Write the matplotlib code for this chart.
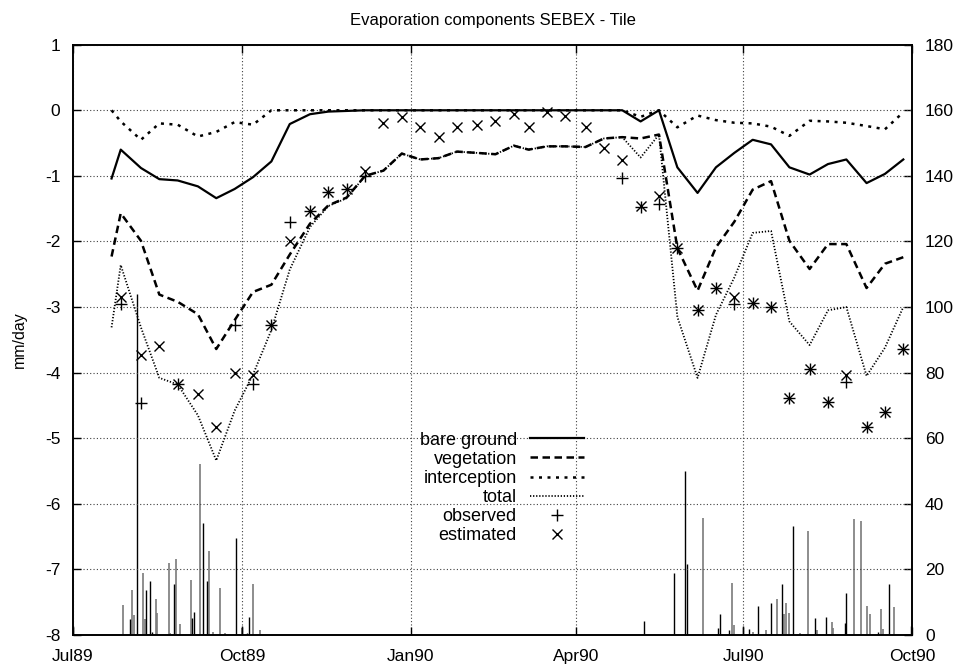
import numpy as np
import pandas as pd
import matplotlib
matplotlib.use("Agg")
import matplotlib.pyplot as plt

plt.rcParams['font.family'] = ['Liberation Sans', 'DejaVu Sans']
plt.rcParams['axes.unicode_minus'] = False

# ---- dekad model output (mm/day) ----
dates = ['1989-07-22', '1989-07-27', '1989-08-07', '1989-08-17', '1989-08-27',
         '1989-09-07', '1989-09-17', '1989-09-27', '1989-10-07', '1989-10-17',
         '1989-10-27', '1989-11-07', '1989-11-17', '1989-11-27', '1989-12-07',
         '1989-12-17', '1989-12-27', '1990-01-06', '1990-01-16', '1990-01-26',
         '1990-02-06', '1990-02-16', '1990-02-26', '1990-03-06', '1990-03-16',
         '1990-03-26', '1990-04-06', '1990-04-16', '1990-04-26', '1990-05-06',
         '1990-05-16', '1990-05-26', '1990-06-06', '1990-06-16', '1990-06-26',
         '1990-07-06', '1990-07-16', '1990-07-26', '1990-08-06', '1990-08-16',
         '1990-08-26', '1990-09-06', '1990-09-16', '1990-09-26']

bare_ground = [-1.04, -0.60, -0.88, -1.05, -1.07, -1.16, -1.34, -1.20, -1.02, -0.78,
               -0.21, -0.06, -0.02, -0.01, 0.0, 0.0, 0.0, 0.0, 0.0, 0.0,
               0.0, 0.0, 0.0, 0.0, 0.0, 0.0, 0.0, 0.0, 0.0, -0.17,
               0.0, -0.87, -1.26, -0.87, -0.65, -0.45, -0.52, -0.87, -0.98, -0.82,
               -0.75, -1.11, -0.97, -0.75]

vegetation = [-2.23, -1.57, -1.99, -2.81, -2.92, -3.11, -3.64, -3.20, -2.77, -2.66,
              -2.20, -1.73, -1.45, -1.33, -1.00, -0.92, -0.66, -0.75, -0.73, -0.63,
              -0.65, -0.67, -0.54, -0.60, -0.55, -0.55, -0.56, -0.43, -0.41, -0.43,
              -0.37, -2.10, -2.75, -2.09, -1.70, -1.21, -1.08, -1.99, -2.42, -2.04,
              -2.04, -2.71, -2.34, -2.24]

interception = [0.0, -0.17, -0.45, -0.20, -0.22, -0.40, -0.33, -0.18, -0.22, 0.0,
                0.0, 0.0, 0.0, 0.0, 0.0, 0.0, 0.0, 0.0, 0.0, 0.0,
                0.0, 0.0, 0.0, 0.0, 0.0, 0.0, 0.0, 0.0, 0.0, -0.10,
                0.0, -0.26, -0.08, -0.15, -0.19, -0.20, -0.25, -0.39, -0.16, -0.17,
                -0.19, -0.24, -0.29, -0.03]

total = [-3.31, -2.36, -3.31, -4.08, -4.18, -4.65, -5.34, -4.58, -4.03, -3.35,
         -2.43, -1.78, -1.46, -1.34, -1.00, -0.92, -0.66, -0.75, -0.73, -0.63,
         -0.65, -0.67, -0.54, -0.60, -0.55, -0.55, -0.56, -0.43, -0.41, -0.72,
         -0.37, -3.15, -4.08, -3.12, -2.55, -1.87, -1.84, -3.22, -3.58, -3.05,
         -3.00, -4.05, -3.62, -3.00]

nan = np.nan
observed = [nan, -2.95, -4.47, nan, -4.18, nan, nan, -3.28, -4.18, -3.28,
            -1.70, -1.53, -1.24, -1.20, -1.00, nan, nan, nan, nan, nan,
            nan, nan, nan, nan, nan, nan, nan, nan, -1.03, -1.47,
            -1.43, -2.10, -3.05, -2.71, -2.95, -2.94, -3.00, -4.38, -3.95, -4.45,
            -4.15, -4.83, -4.60, -3.64]

estimated = [nan, -2.85, -3.73, -3.59, -4.18, -4.32, -4.83, -4.00, -4.04, -3.28,
             -2.00, -1.53, -1.24, -1.20, -0.93, -0.20, -0.10, -0.25, -0.40, -0.26,
             -0.22, -0.17, -0.06, -0.25, -0.02, -0.09, -0.26, -0.58, -0.76, -1.46,
             -1.31, -2.10, -3.05, -2.71, -2.85, -2.94, -3.00, -4.38, -3.95, -4.45,
             -4.03, -4.83, -4.60, -3.64]

# ---- daily rainfall (right axis), day number counted from 1 Jul 1989 ----
rain_black_day = [0, 31, 35, 40, 42, 43, 55, 65, 66, 71, 73, 89, 92, 95, 96,
                  311, 327, 333, 334, 351, 352, 357, 365, 368, 373, 380, 386, 392,
                  404, 410, 420, 421, 438, 444, 456]
rain_black = [2.8, 5.0, 104.0, 13.7, 16.5, 1.0, 15.5, 5.3, 7.0, 34.2, 16.5, 29.6, 2.8, 0.5, 5.6,
              4.4, 19.0, 50.0, 21.6, 2.2, 6.5, 1.4, 2.8, 1.9, 8.9, 9.9, 15.5, 33.2,
              5.3, 5.5, 3.8, 12.7, 0.9, 15.5, 2.8]
rain_grey_day = [27, 32, 33, 38, 39, 45, 46, 52, 53, 56, 58, 64, 69, 74, 76, 80, 83, 92, 98, 102,
                 343, 359, 360, 370, 377, 383, 387, 388, 390, 396, 400, 405, 413, 414,
                 425, 429, 432, 434, 440, 441, 447]
rain_grey = [9.1, 13.7, 6.0, 19.0, 5.0, 10.9, 6.6, 22.1, 0.5, 23.2, 3.5, 16.7, 52.2, 25.6, 0.9, 14.4, 0.5, 2.0, 15.5, 1.4,
             35.6, 16.0, 3.0, 0.9, 1.4, 10.9, 6.5, 9.7, 6.8, 0.7, 31.6, 1.4, 4.1, 2.2,
             35.4, 34.7, 8.9, 6.5, 7.9, 1.9, 8.6]

xtick_dates = ['1989-07-01', '1989-10-01', '1990-01-01', '1990-04-01', '1990-07-01', '1990-10-01']
xtick_labels = ['Jul89', 'Oct89', 'Jan90', 'Apr90', 'Jul90', 'Oct90']

# ---- figure ----
fig = plt.figure(figsize=(9.59, 6.67), dpi=100)
ax = fig.add_axes([0.0761, 0.048, 0.8754, 0.885])
ax2 = ax.twinx()

t = pd.to_datetime(dates)
start = pd.Timestamp('1989-07-01')
tb = start + pd.to_timedelta(rain_black_day, unit='D')
tg = start + pd.to_timedelta(rain_grey_day, unit='D')

ax2.vlines(tg, 0, rain_grey, colors='#7a7a7a', linewidth=1.2)
ax2.vlines(tb, 0, rain_black, colors='black', linewidth=1.0)
ax2.set_ylim(0, 180)
ax2.set_yticks(np.arange(0, 181, 20))

ax.set_zorder(ax2.get_zorder() + 1)
ax.patch.set_visible(False)

ax.plot(t, bare_ground, color='black', lw=1.6, ls='-', label='bare ground')
ax.plot(t, vegetation, color='black', lw=1.8, ls=(0, (3.0, 1.8)), label='vegetation')
ax.plot(t, interception, color='black', lw=1.8, ls=(0, (1.2, 2.2)), label='interception')
ax.plot(t, total, color='black', lw=1.3, ls=(0, (0.7, 1.0)), label='total')
ax.plot(t, observed, ls='none', marker='+', ms=8, mew=1.0, color='black', label='observed')
ax.plot(t, estimated, ls='none', marker='x', ms=7, mew=1.0, color='black', label='estimated')

ax.set_xlim(pd.Timestamp('1989-07-01'), pd.Timestamp('1990-10-01'))
ax.set_ylim(-8, 1)
ax.set_yticks(np.arange(-8, 2, 1))
ax.set_xticks(pd.to_datetime(xtick_dates))
ax.set_xticklabels(xtick_labels)

ax.grid(True, color='0.25', lw=0.8, ls=(0, (1, 2)))

fs = 12.5
ax.tick_params(axis='both', direction='in', length=6, width=1, labelsize=fs,
               top=True, right=False)
ax.tick_params(axis='x', pad=10)
ax.tick_params(axis='y', pad=9)
ax2.tick_params(axis='y', direction='in', length=6, width=1, labelsize=fs, pad=9)
for a in (ax, ax2):
    for s in a.spines.values():
        s.set_linewidth(1.2)

ax.set_ylabel('mm/day', fontsize=11.5, labelpad=13)
ax.set_title('Evaporation components SEBEX - Tile', fontsize=12, pad=14)

leg = ax.legend(loc='upper right', bbox_to_anchor=(0.609, 0.353),
                bbox_transform=fig.transFigure, frameon=False, markerfirst=False,
                fontsize=13, handlelength=3.0, handletextpad=0.72, labelspacing=0.12,
                borderpad=0, borderaxespad=0)

fig.savefig('out.png', dpi=100)
